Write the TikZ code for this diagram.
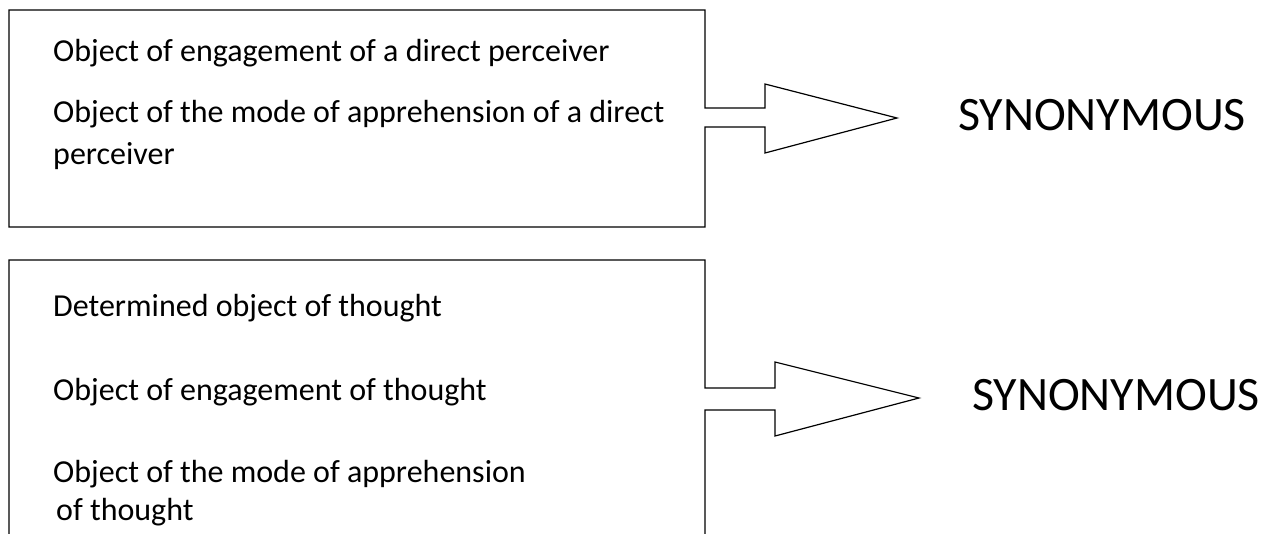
\documentclass[tikz,border=0pt]{standalone}
\usepackage{fontspec}
\setmainfont{Carlito}
\begin{document}
\begin{tikzpicture}[x=1pt,y=-1pt,
  outline/.style={draw=black,line width=1.2pt,line join=miter},
  item/.style={anchor=base west,inner sep=0pt,font=\fontsize{32}{38}\selectfont},
  big/.style={anchor=west,inner sep=0pt,font=\fontsize{48}{52}\selectfont}]
\useasboundingbox (0,0) rectangle (1268,533);
\clip (0,0) rectangle (1268,533);
% box 1 with arrow
\coordinate (b1s) at (705,108);
\coordinate (b1tip) at (897,118);
\draw[outline] (b1s) -- (705,10) -- (9,10) -- (9,227) -- (705,227) -- (705,127)
  -- (765,127) -- (765,153) -- (b1tip) -- (765,84) -- (765,108) -- cycle;
\node[item] (t11) at (53,61) {Object of engagement of a direct perceiver};
\node[item] (t12) at (53,122) {Object of the mode of apprehension of a direct};
\node[item] (t13) at (53,164) {perceiver};
\node[big] (s1) at (958,115) {SYNONYMOUS};
% box 2 with arrow
\coordinate (b2s) at (705,388);
\coordinate (b2tip) at (919,398);
\draw[outline] (b2s) -- (705,260) -- (9,260) -- (9,560) -- (705,560) -- (705,410)
  -- (775,410) -- (775,436) -- (b2tip) -- (775,362) -- (775,388) -- cycle;
\node[item] (t21) at (53,316) {Determined object of thought};
\node[item] (t22) at (53,400) {Object of engagement of thought};
\node[item] (t23) at (53,482) {Object of the mode of apprehension};
\node[item] (t24) at (56,520) {of thought};
\node[big] (s2) at (972,395) {SYNONYMOUS};
\end{tikzpicture}
\end{document}
